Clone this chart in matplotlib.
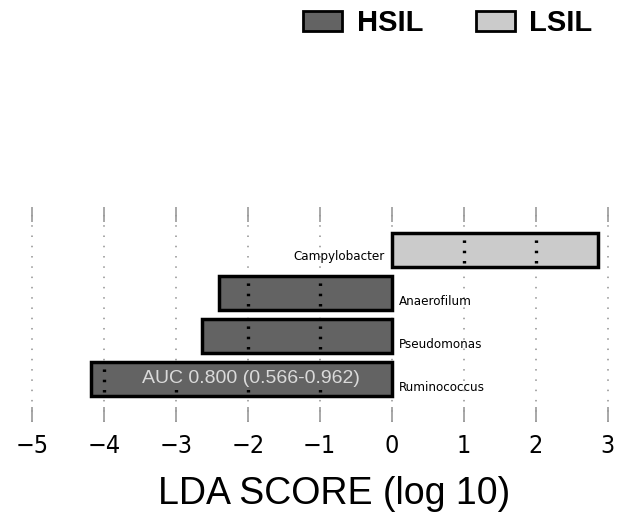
import matplotlib
matplotlib.use('Agg')
import matplotlib.pyplot as plt
from matplotlib.patches import Patch

# taxa from bottom to top
taxa = ['Ruminococcus', 'Pseudomonas', 'Anaerofilum', 'Campylobacter']
lda = [-4.18, -2.64, -2.40, 2.86]
groups = ['HSIL', 'HSIL', 'HSIL', 'LSIL']
group_names = ['HSIL', 'LSIL']
group_colors = {'HSIL': '#636363', 'LSIL': '#cbcbcb'}
xticks = [-5, -4, -3, -2, -1, 0, 1, 2, 3]
auc_text = 'AUC 0.800 (0.566-0.962)'

cond = dict(family='DejaVu Sans', stretch='condensed')


def dots(lw, on=1.1, period=7.4):
    # dash pattern in points, undo matplotlib's scaling by linewidth
    return (0, (on / lw, (period - on) / lw))


fig = plt.figure(figsize=(6.21, 5.14), dpi=100)
ax = fig.add_axes([0.02, 0.179, 0.97, 0.418])

ypos = list(range(len(taxa)))
bar_h = 0.8
for y, v, g in zip(ypos, lda, groups):
    ax.barh(y, v, height=bar_h, color=group_colors[g], edgecolor='black',
            linewidth=2.5, zorder=2)
    # grid dots drawn over the bars
    lo, hi = min(0, v), max(0, v)
    inside = [t for t in xticks if lo < t < hi]
    if inside:
        ax.vlines(inside, y - 0.3, y + 0.3, colors='black',
                  linewidth=2.4, linestyles=[dots(2.4, on=1.8)], zorder=3)
    if v < 0:
        ax.text(0.1, y - 0.2, taxa[y], ha='left', va='center', fontsize=9.5, **cond)
    else:
        ax.text(-0.1, y - 0.15, taxa[y], ha='right', va='center', fontsize=9.5, **cond)

ax.text(-1.95, 0.02, auc_text, ha='center', va='center', fontsize=14,
        family='Liberation Sans', color='#dadada', zorder=4,
        bbox=dict(facecolor=group_colors['HSIL'], edgecolor='none', pad=1.5))

ax.set_xlim(-5.27, 3.1)
ax.set_ylim(-1, 4)
ax.set_xticks(xticks)
ax.set_xticklabels([str(t).replace('-', '\u2212') for t in xticks], fontsize=18, **cond)
ax.set_yticks([])
ax.tick_params(axis='x', direction='in', top=True, bottom=True, length=11,
               width=1.2, color='#9a9a9a', pad=9)
ax.grid(axis='x', color='#9a9a9a', linewidth=1.2, linestyle=dots(1.2), zorder=0)
ax.set_axisbelow(True)
for s in ax.spines.values():
    s.set_visible(False)

fig.text(334 / 621, 1 - 494 / 514, 'LDA SCORE (log 10)', ha='center', va='center',
         fontsize=27, family='Liberation Sans')

handles = [Patch(facecolor=group_colors[g], edgecolor='black', linewidth=2) for g in group_names]
fig.legend(handles, group_names, loc='upper left', bbox_to_anchor=(303 / 621, 1 - 9 / 514),
           ncol=2, frameon=False, prop={'family': 'Liberation Sans', 'size': 21, 'weight': 'bold'},
           handlelength=1.34, handleheight=0.7, handletextpad=0.5, columnspacing=1.8,
           borderpad=0, borderaxespad=0)

fig.savefig('out.png', dpi=100)
